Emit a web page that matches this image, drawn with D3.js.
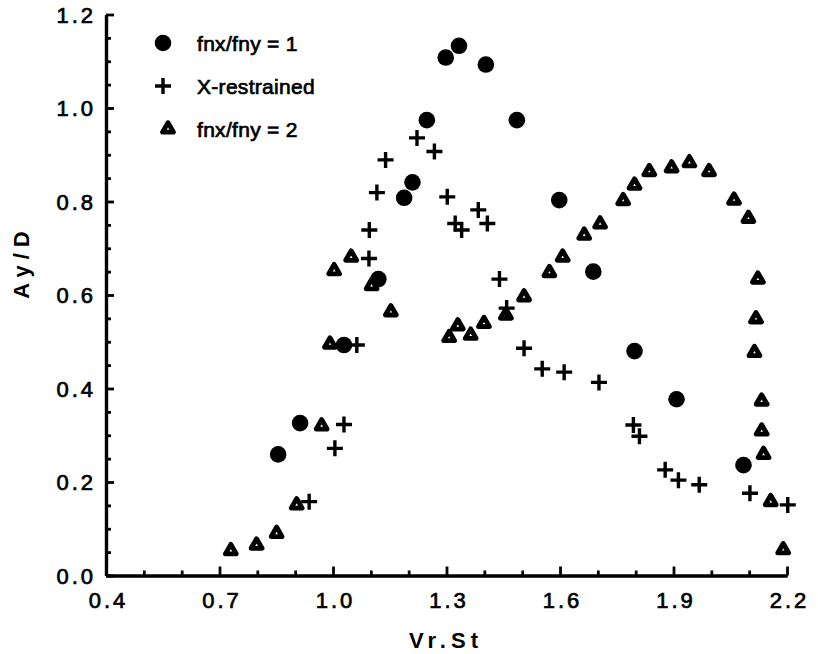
<!DOCTYPE html>
<html>
<head>
<meta charset="utf-8">
<script src="https://cdn.jsdelivr.net/npm/d3@7"></script>
<style>
  html, body { margin: 0; padding: 0; background: #fff; }
  svg { display: block; }
  text { font-family: "Liberation Sans", Arial, Helvetica, sans-serif; fill: #000; }
  .heavy { stroke: #000; stroke-width: 0.7px; }
</style>
</head>
<body>
<svg id="chart" width="818" height="654"></svg>
<script>
// Response amplitude Ay/D against reduced velocity Vr.St, three test configurations
const ratioOne = [
  [0.855, 0.259], [0.913, 0.326], [1.029, 0.493], [1.120, 0.634], [1.188, 0.808],
  [1.210, 0.841], [1.248, 0.974], [1.298, 1.108], [1.333, 1.133], [1.404, 1.093],
  [1.486, 0.974], [1.598, 0.803], [1.688, 0.650], [1.797, 0.480], [1.908, 0.377],
  [2.085, 0.236]
];
const xRestrained = [
  [0.937, 0.158], [1.005, 0.272], [1.029, 0.323], [1.063, 0.493], [1.095, 0.678],
  [1.096, 0.739], [1.116, 0.819], [1.139, 0.889], [1.222, 0.936], [1.268, 0.907],
  [1.302, 0.810], [1.323, 0.753], [1.340, 0.739], [1.384, 0.782], [1.408, 0.753],
  [1.440, 0.634], [1.459, 0.572], [1.505, 0.486], [1.553, 0.442], [1.611, 0.435],
  [1.703, 0.413], [1.794, 0.322], [1.810, 0.298], [1.878, 0.226], [1.913, 0.204],
  [1.968, 0.194], [2.102, 0.176], [2.202, 0.151]
];
const ratioTwo = [
  [0.730, 0.053], [0.798, 0.065], [0.851, 0.090], [0.904, 0.151], [0.970, 0.320],
  [0.992, 0.495], [1.003, 0.652], [1.048, 0.681], [1.102, 0.620], [1.153, 0.564],
  [1.307, 0.509], [1.330, 0.534], [1.364, 0.514], [1.399, 0.539], [1.457, 0.557],
  [1.505, 0.596], [1.572, 0.648], [1.607, 0.681], [1.664, 0.728], [1.706, 0.752],
  [1.767, 0.802], [1.797, 0.835], [1.836, 0.864], [1.895, 0.872], [1.942, 0.883],
  [1.994, 0.864], [2.060, 0.803], [2.098, 0.764], [2.123, 0.634], [2.118, 0.549],
  [2.114, 0.477], [2.133, 0.373], [2.133, 0.309], [2.138, 0.259], [2.157, 0.158],
  [2.190, 0.055]
];

const xTickValues = [0.4, 0.7, 1.0, 1.3, 1.6, 1.9, 2.2];
const xTickLabels = ["0.4", "0.7", "1.0", "1.3", "1.6", "1.9", "2.2"];
const yTickValues = [0.0, 0.2, 0.4, 0.6, 0.8, 1.0, 1.2];
const yTickLabels = ["0.0", "0.2", "0.4", "0.6", "0.8", "1.0", "1.2"];
const legendLabels = ["fnx/fny = 1", "X-restrained", "fnx/fny = 2"];
const xTitle = "Vr.St";
const yTitle = "Ay/D";

const svg = d3.select("#chart");
const x = d3.scaleLinear().domain([0.4, 2.2]).range([106, 787]);
const y = d3.scaleLinear().domain([0, 1.2]).range([575.5, 14.5]);

// minor tick positions between the labelled ones
const xMinor = d3.range(0.4, 2.2001, 0.1).filter(v => !xTickValues.some(t => Math.abs(t - v) < 1e-6));
const yMinor = d3.range(0, 1.2001, 0.05).filter(v => !yTickValues.some(t => Math.abs(t - v) < 1e-6));

function styleAxis(g) {
  g.selectAll(".domain").attr("stroke", "#000").attr("stroke-width", 3.2);
  g.selectAll(".tick line").attr("stroke", "#000").attr("stroke-width", 2.8);
}

// x axis: minor then major ticks (pointing inward)
svg.append("g").attr("transform", `translate(0,${y(0)})`)
  .call(d3.axisBottom(x).tickValues(xMinor).tickSize(-5).tickSizeOuter(0).tickFormat(""))
  .call(styleAxis);
const gx = svg.append("g").attr("transform", `translate(0,${y(0)})`)
  .call(d3.axisBottom(x).tickValues(xTickValues).tickSize(-9).tickSizeOuter(0)
    .tickFormat((d, i) => xTickLabels[i]))
  .call(styleAxis);
gx.selectAll(".tick text")
  .attr("class", "heavy")
  .attr("y", 17).attr("dy", "0.71em")
  .style("font-size", "22px").style("letter-spacing", "3px")
  .attr("dx", "2px");

// y axis
svg.append("g").attr("transform", `translate(${x(0.4)},0)`)
  .call(d3.axisLeft(y).tickValues(yMinor).tickSize(-5).tickSizeOuter(0).tickFormat(""))
  .call(styleAxis);
const gy = svg.append("g").attr("transform", `translate(${x(0.4)},0)`)
  .call(d3.axisLeft(y).tickValues(yTickValues).tickSize(-8).tickSizeOuter(0)
    .tickFormat((d, i) => yTickLabels[i]))
  .call(styleAxis);
gy.selectAll(".tick text")
  .attr("class", "heavy")
  .attr("x", -10).attr("dy", "0.36em")
  .style("font-size", "22px").style("letter-spacing", "3px");

// axis titles
svg.append("text")
  .attr("x", 446).attr("y", 648)
  .attr("text-anchor", "middle")
  .style("font-size", "22px").style("font-weight", "bold").style("letter-spacing", "5px")
  .text(xTitle);
svg.append("text")
  .attr("transform", "translate(29,262) rotate(-90)")
  .attr("text-anchor", "middle")
  .style("font-size", "22px").style("font-weight", "bold").style("letter-spacing", "6px")
  .text(yTitle);

// marker renderers
const circleR = 8.3;
function drawCircle(sel) {
  sel.append("circle").attr("r", circleR).attr("fill", "#000");
}
function drawPlus(sel) {
  sel.append("path").attr("d", "M-8,0H8M0,-8V8")
    .attr("stroke", "#000").attr("stroke-width", 3.4).attr("fill", "none");
}
const triSide = 11;
const triH = triSide * Math.sqrt(3) / 2;
const triPath = `M0,${-triH * 2 / 3}L${triSide / 2},${triH / 3}L${-triSide / 2},${triH / 3}Z`;
function drawTriangle(sel) {
  sel.append("path").attr("d", triPath)
    .attr("fill", "#fff").attr("stroke", "#000").attr("stroke-width", 4.8)
    .attr("stroke-linejoin", "round");
}

const plot = svg.append("g");
plot.append("g").selectAll("g").data(ratioTwo).join("g")
  .attr("transform", d => `translate(${x(d[0])},${y(d[1])})`)
  .each(function () { drawTriangle(d3.select(this)); });
plot.append("g").selectAll("g").data(ratioOne).join("g")
  .attr("transform", d => `translate(${x(d[0])},${y(d[1])})`)
  .each(function () { drawCircle(d3.select(this)); });
plot.append("g").selectAll("g").data(xRestrained).join("g")
  .attr("transform", d => `translate(${x(d[0])},${y(d[1])})`)
  .each(function () { drawPlus(d3.select(this)); });

// legend
const legend = svg.append("g");
const legendRows = [
  { label: legendLabels[0], draw: drawCircle, mx: 163, my: 43 },
  { label: legendLabels[1], draw: drawPlus, mx: 163, my: 86 },
  { label: legendLabels[2], draw: drawTriangle, mx: 168, my: 129 }
];
legendRows.forEach(r => {
  const g = legend.append("g").attr("transform", `translate(${r.mx},${r.my})`);
  r.draw(g);
  legend.append("text")
    .attr("class", "heavy")
    .attr("x", 197).attr("y", r.my).attr("dy", "0.36em")
    .style("font-size", "21px").style("letter-spacing", "0.3px")
    .text(r.label);
});
</script>
</body>
</html>
